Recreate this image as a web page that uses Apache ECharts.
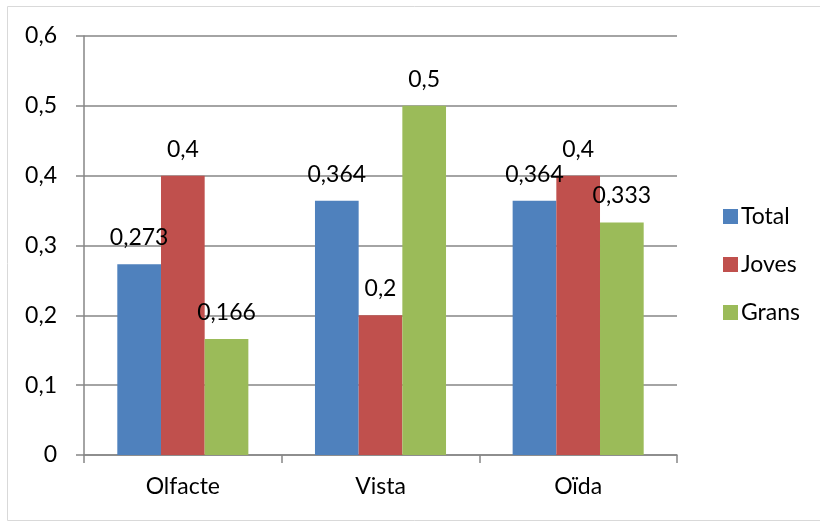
<!DOCTYPE html>
<html>
<head>
<meta charset="utf-8"/>
<title>Olfacte Vista Oïda</title>
<script src="https://cdn.jsdelivr.net/npm/echarts@6/dist/echarts.min.js"></script>
<style>
html,body{margin:0;padding:0;background:#fff}
#main{width:820px;height:522px}
</style>
</head>
<body>
<div id="main"></div>
<script>
var categories = ['Olfacte', 'Vista', 'Oïda'];
var total = [0.273, 0.364, 0.364];
var joves = [0.4, 0.2, 0.4];
var grans = [0.166, 0.5, 0.333];
var seriesNames = ['Total', 'Joves', 'Grans'];
var colors = ['#4F81BD', '#C0504D', '#9BBB59'];

var font = 'Lato, "Open Sans", sans-serif';

function comma(v) {
    return String(v).replace('.', ',');
}

function makeSeries(name, data, color) {
    return {
        name: name,
        type: 'bar',
        data: data,
        barGap: '0%',
        barCategoryGap: '33.7%',
        itemStyle: {color: color},
        label: {
            show: true,
            position: 'top',
            distance: 15,
            color: '#000',
            fontFamily: font,
            fontSize: 23,
            formatter: function (p) { return comma(p.value); }
        }
    };
}

var myChart = echarts.init(document.getElementById('main'));
var option = {
    animation: false,
    graphic: [{
        type: 'rect',
        shape: {x: 7.5, y: 6.5, width: 900, height: 514},
        style: {fill: 'none', stroke: '#d9d9d9', lineWidth: 1}
    }],
    grid: {left: 84, right: 143, top: 36, bottom: 67},
    legend: {
        orient: 'vertical',
        left: 718,
        top: 200,
        itemWidth: 15,
        itemHeight: 15,
        itemGap: 25,
        icon: 'rect',
        data: seriesNames,
        textStyle: {fontFamily: font, fontSize: 23, color: '#000', padding: [0, 0, 0, -2]}
    },
    xAxis: {
        type: 'category',
        data: categories,
        axisLine: {lineStyle: {color: '#868686', width: 1.5}},
        axisTick: {show: true, length: 8, lineStyle: {color: '#868686', width: 1.5}},
        axisLabel: {fontFamily: font, fontSize: 23, color: '#000', margin: 20}
    },
    yAxis: {
        type: 'value',
        min: 0,
        max: 0.6,
        interval: 0.1,
        axisLine: {show: true, lineStyle: {color: '#868686', width: 1.5}},
        axisTick: {show: true, length: 8, lineStyle: {color: '#868686', width: 1.5}},
        splitLine: {lineStyle: {color: '#868686', width: 1.5}},
        axisLabel: {
            fontFamily: font, fontSize: 23, color: '#000', margin: 27,
            formatter: function (v) { return comma(Math.round(v * 10) / 10); }
        }
    },
    series: [
        makeSeries(seriesNames[0], total, colors[0]),
        makeSeries(seriesNames[1], joves, colors[1]),
        makeSeries(seriesNames[2], grans, colors[2])
    ]
};
myChart.setOption(option);
</script>
</body>
</html>
